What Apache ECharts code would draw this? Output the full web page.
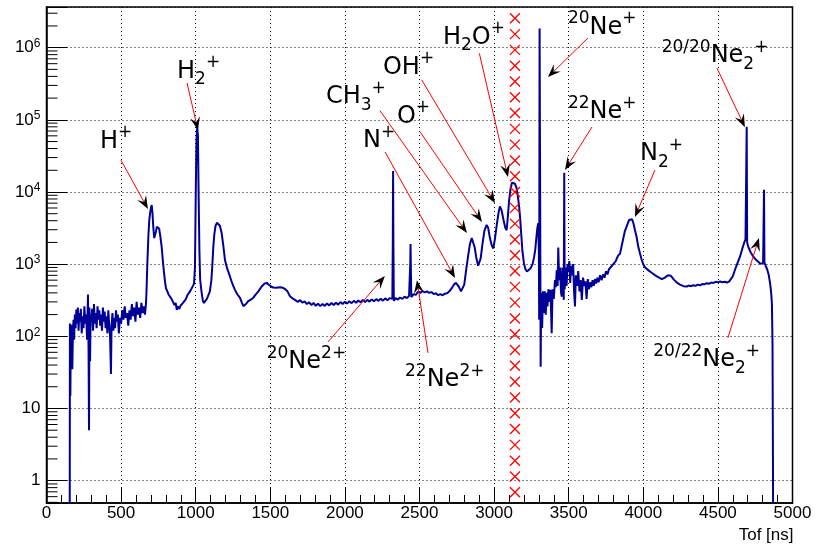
<!DOCTYPE html>
<html>
<head>
<meta charset="utf-8">
<script src="https://cdn.jsdelivr.net/npm/echarts@6/dist/echarts.min.js"></script>
<style>
  html, body { margin: 0; padding: 0; background: #ffffff; }
  #chart { width: 817px; height: 548px; }
</style>
</head>
<body>
<div id="chart"></div>
<script>
// Time-of-flight spectrum: bin centres [ns] and counts per bin
const tof = [
  155, 157, 160, 163, 166, 169, 173, 177, 181, 185, 190, 195, 200, 205, 210, 215, 220, 225, 230, 236,
  242, 248, 254, 260, 266, 272, 278, 282, 285, 288, 292, 296, 300, 306, 312, 318, 324, 330, 336, 342,
  348, 354, 360, 366, 372, 378, 384, 390, 396, 402, 408, 414, 420, 426, 432, 436, 442, 448, 454, 460,
  466, 472, 478, 485, 492, 500, 508, 516, 524, 532, 540, 548, 556, 564, 572, 580, 588, 596, 604, 612,
  620, 628, 636, 644, 652, 660, 666,
  670, 676, 683, 689, 695, 700, 705, 710, 716, 722, 727, 733, 740, 748, 755, 762, 772, 780, 788, 795,
  801, 810, 818, 828, 838, 850, 858, 866, 873, 880, 890, 898, 906, 915, 925, 935, 945, 955, 965, 973,
  982, 989, 995, 1000, 1005, 1010, 1015, 1020, 1025, 1030, 1040, 1048, 1055, 1065, 1075, 1085, 1095, 1105, 1112, 1118,
  1125, 1133, 1143, 1152, 1162, 1174, 1185, 1196, 1210, 1230, 1245, 1263, 1280, 1297, 1310, 1320, 1330, 1340, 1350, 1364,
  1385, 1400, 1420, 1442, 1460, 1476, 1490, 1505, 1520, 1540, 1565, 1585, 1600, 1615, 1632, 1654,
  1670, 1685, 1700, 1715, 1730, 1745, 1760, 1775, 1790, 1805, 1820, 1835, 1850, 1865, 1880, 1895, 1910, 1925, 1940, 1955,
  1970, 1985, 2000, 2015, 2030, 2045, 2060, 2075, 2090, 2105, 2120, 2135, 2150, 2165, 2180, 2195, 2210, 2225, 2240, 2255,
  2270, 2285, 2300, 2312, 2318, 2321, 2323, 2325, 2328, 2340, 2355, 2369, 2385, 2400, 2415, 2430, 2436, 2438, 2440, 2442,
  2445, 2460, 2475, 2490, 2505, 2520, 2535, 2550, 2565, 2580, 2595, 2610, 2625, 2640, 2655, 2670, 2685, 2700, 2715, 2730,
  2745, 2755, 2765, 2778, 2790, 2800, 2808, 2816, 2826, 2838, 2850, 2860, 2870, 2880, 2893, 2901, 2910, 2922, 2935, 2950,
  2960, 2972, 2985, 2995, 3005, 3018, 3030, 3039, 3050, 3062, 3075, 3084, 3092, 3100, 3110, 3120, 3130, 3140, 3150, 3160,
  3168, 3175, 3182, 3190, 3200, 3210, 3220, 3232, 3245, 3258, 3268, 3276, 3284, 3290, 3296, 3300, 3302, 3305, 3309, 3312,
  3316, 3322, 3328, 3334, 3340, 3346, 3352, 3358, 3364, 3370, 3378, 3386, 3392, 3400, 3408, 3414, 3420, 3426, 3430, 3436,
  3442, 3448, 3453, 3458, 3463, 3467, 3470, 3473, 3480, 3486, 3492, 3498, 3504, 3510, 3516, 3522, 3530, 3536, 3542, 3548,
  3556, 3564, 3572, 3580, 3588, 3596, 3604, 3612, 3620, 3628, 3636, 3644, 3652, 3660, 3668, 3676, 3684, 3692, 3700, 3710,
  3720, 3730, 3740, 3750, 3760, 3770, 3780, 3790, 3800, 3815, 3830, 3844, 3860, 3877, 3890, 3905, 3915, 3925, 3935, 3945,
  3955, 3966, 3978, 3989, 4000, 4012, 4022, 4035, 4045, 4056, 4067, 4080, 4090, 4100, 4112, 4124, 4134, 4145, 4155, 4165,
  4175, 4185, 4195, 4205, 4215, 4230, 4246, 4258, 4270, 4282, 4291, 4305, 4320, 4335, 4350, 4365, 4380, 4395, 4410, 4425,
  4440, 4455, 4470, 4485, 4500, 4515, 4530, 4545, 4560, 4575, 4585, 4600, 4614, 4630, 4648, 4662, 4675, 4685, 4690, 4693,
  4696, 4703, 4720, 4737, 4755, 4770, 4785, 4795, 4803, 4806, 4809, 4812, 4820, 4830, 4840, 4850, 4857, 4862, 4866, 4869,
  4872
];
const counts = [
  0.01, 150, 15, 130, 55, 145, 35, 115, 170, 90, 200, 130, 235, 150, 250, 120, 210, 160, 240, 110,
  190, 130, 260, 150, 200, 90, 380, 60, 5, 250, 45, 200, 160, 240, 120, 280, 150, 210, 130, 260,
  170, 230, 140, 200, 120, 250, 160, 220, 130, 190, 110, 230, 150, 100, 30, 140, 210, 120, 180, 130,
  230, 160, 200, 110, 180, 150, 230, 170, 260, 180, 210, 140, 230, 170, 280, 190, 250, 160, 300, 200,
  250, 180, 290, 210, 260, 200, 270,
  400, 1040, 2500, 4100, 5200, 6000, 6600, 5200, 3200, 2300, 2160, 2800, 3300, 3400, 3100, 2500, 1740, 1100, 750, 560,
  463, 420, 380, 374, 330, 318, 270, 290, 232, 260, 240, 265, 257, 290, 300, 330, 374, 400, 430, 463,
  500, 543, 900, 8000, 50000, 79000, 60000, 8000, 1500, 600, 400, 310, 290, 300, 330, 350, 420, 600, 1000, 1740,
  2600, 3400, 3750, 3800, 3400, 2700, 1800, 1150, 880, 670, 540, 440, 380, 340, 290, 262, 272, 285, 305, 318,
  340, 375, 420, 490, 535, 550, 520, 490, 475, 470, 480, 470, 450, 420, 360, 330,
  315, 300, 318, 292, 305, 280, 296, 272, 290, 265, 283, 262, 280, 264, 285, 268, 290, 272, 292, 275,
  298, 280, 302, 284, 306, 288, 310, 292, 314, 296, 318, 298, 320, 302, 325, 305, 328, 310, 332, 312,
  336, 315, 338, 320, 330, 2000, 19500, 2000, 310, 340, 322, 345, 330, 355, 338, 362, 345, 1000, 1900, 900,
  350, 385, 375, 415, 400, 425, 405, 420, 400, 410, 385, 395, 372, 385, 370, 390, 395, 420, 460, 520,
  550, 530, 480, 420, 400, 520, 700, 930, 1300, 1900, 2300, 2200, 1700, 1250, 950, 920, 1200, 1900, 2900, 3500,
  3200, 2300, 1800, 1650, 2200, 3500, 5200, 6300, 5600, 4200, 3200, 2950, 4500, 7500, 11000, 13500, 14000, 13000, 11500, 8500,
  6200, 4200, 2600, 1500, 1030, 850, 790, 800, 880, 1000, 1250, 1600, 2400, 3200, 3700, 1500, 170, 1850000, 5000, 38,
  400, 130, 420, 210, 420, 200, 400, 260, 450, 300, 440, 110, 450, 330, 600, 480, 830, 500, 1700, 600,
  900, 420, 355, 900, 500, 320, 18500, 450, 900, 500, 1000, 800, 1100, 550, 950, 700, 1000, 420, 260, 700,
  500, 800, 420, 600, 320, 650, 500, 580, 330, 620, 450, 560, 480, 600, 500, 620, 540, 650, 560, 700,
  600, 720, 650, 800, 720, 850, 800, 950, 920, 1100, 1300, 1400, 2000, 2900, 3400, 4100, 4300, 4200, 3600, 2900,
  2400, 1750, 1400, 1150, 1000, 900, 880, 820, 790, 760, 750, 700, 690, 660, 640, 620, 610, 650, 690, 700,
  720, 690, 650, 610, 580, 545, 520, 505, 495, 510, 490, 505, 495, 510, 500, 520, 510, 530, 525, 545,
  535, 555, 550, 570, 560, 575, 560, 570, 558, 572, 580, 680, 830, 1020, 1270, 1600, 1950, 2200, 2150, 80000,
  2000, 1750, 1450, 1280, 1150, 1080, 1010, 975, 1040, 1100, 10700, 1050, 950, 850, 720, 540, 400, 287, 80, 2,
  0.01
];

// Marker column drawn at the gate position
const cutTof = 3140;
const cutCounts = [
  2.55e6, 1.54e6, 9.31e5, 5.62e5, 3.40e5, 2.05e5, 1.24e5, 7.49e4, 4.53e4, 2.73e4,
  1.65e4, 9970, 6030, 3640, 2200, 1330, 802, 484, 293, 177,
  107, 64.5, 39.0, 23.5, 14.2, 8.59, 5.19, 3.13, 1.89, 1.14, 0.69
];

// Peak labels: text anchor (left edge, middle) and arrow tail/tip, all in [ns, counts]
const annotations = [
  { label: 'H{sup|+}',                 at: [359, 5.0e4],   from: [499, 2.76e4],  to: [680, 5820] },
  { label: 'H{sub|2}{sup|+}',          at: [875, 4.68e5],  from: [942, 3.24e5],  to: [1015, 7.2e4] },
  { label: 'CH{sub|3}{sup|+}',         at: [1873, 2.07e5], from: [2235, 1.34e5], to: [2818, 2700] },
  { label: 'OH{sup|+}',                at: [2255, 5.31e5], from: [2515, 3.57e5], to: [3006, 7000] },
  { label: 'O{sup|+}',                 at: [2349, 1.11e5], from: [2503, 6.85e4], to: [2919, 3850] },
  { label: 'N{sup|+}',                 at: [2121, 5.09e4], from: [2269, 3.59e4], to: [2738, 644] },
  { label: 'H{sub|2}O{sup|+}',         at: [2657, 1.38e6], from: [2901, 8.36e5], to: [3093, 1.61e4] },
  { label: '{sup|20}Ne{sup|+}',        at: [3495, 1.90e6], from: [3629, 1.36e6], to: [3361, 3.92e5] },
  { label: '{sup|22}Ne{sup|+}',        at: [3495, 1.30e5], from: [3656, 7.96e4], to: [3475, 2.02e4] },
  { label: 'N{sub|2}{sup|+}',          at: [3978, 3.36e4], from: [4078, 2.02e4], to: [3944, 4500] },
  { label: '{sup|20/20}Ne{sub|2}{sup|+}', at: [4123, 7.7e5], from: [4494, 5.2e5], to: [4681, 7.9e4] },
  { label: '{sup|20/22}Ne{sub|2}{sup|+}', at: [4067, 47],   from: [4567, 94.8],  to: [4775, 2300] },
  { label: '{sup|20}Ne{sup|2+}',       at: [1476, 44.6],   from: [1887, 83.6],  to: [2268, 687] },
  { label: '{sup|22}Ne{sup|2+}',       at: [2403, 24.9],   from: [2557, 58.9],  to: [2483, 598] }
];

const X_MIN = 0, X_MAX = 5000;
const Y_MIN = 0.49, Y_MAX = 3.66e6;

// Intermediate log ticks (2..9 of every decade inside the range)
const yMinorTicks = [];
for (let e = -1; e <= 6; e++) {
  for (let m = 2; m <= 9; m++) {
    const v = m * Math.pow(10, e);
    if (v > Y_MIN && v < Y_MAX) yMinorTicks.push(v);
  }
}

const AXIS_FONT = 'Liberation Sans, Arial, Helvetica, sans-serif';
const LABEL_FONT = 'DejaVu Sans, sans-serif';

const chart = echarts.init(document.getElementById('chart'), null, { renderer: 'canvas' });

function decadeLabel(v) {
  const lg = Math.log10(v);
  const e = Math.round(lg);
  if (Math.abs(lg - e) > 1e-6) return '';
  if (e === 0) return '1';
  if (e === 1) return '10';
  return '10{sup|' + e + '}';
}

function renderAnnotation(params, api) {
  const a = annotations[params.dataIndex];
  const p0 = api.coord(a.from);
  const p1 = api.coord(a.to);
  const pt = api.coord(a.at);
  const dx = p1[0] - p0[0], dy = p1[1] - p0[1];
  const len = Math.hypot(dx, dy) || 1;
  const ux = dx / len, uy = dy / len, nx = -uy, ny = ux;
  const L = 13, W = 5, N = 8;
  const head = [
    [p1[0], p1[1]],
    [p1[0] - L * ux + W * nx, p1[1] - L * uy + W * ny],
    [p1[0] - N * ux, p1[1] - N * uy],
    [p1[0] - L * ux - W * nx, p1[1] - L * uy - W * ny]
  ];
  return {
    type: 'group',
    children: [
      { type: 'line', shape: { x1: p0[0], y1: p0[1], x2: p1[0] - N * ux, y2: p1[1] - N * uy },
        style: { stroke: '#ff0000', lineWidth: 1 } },
      { type: 'polygon', shape: { points: head }, style: { fill: '#000000' } },
      { type: 'text', x: pt[0], y: pt[1],
        style: {
          text: a.label, fill: '#000000', fontFamily: LABEL_FONT, fontSize: 24, lineHeight: 34,
          align: 'left', verticalAlign: 'middle',
          rich: {
            sup: { fontFamily: LABEL_FONT, fontSize: 17, lineHeight: 23, verticalAlign: 'top', fill: '#000000' },
            sub: { fontFamily: LABEL_FONT, fontSize: 17, lineHeight: 22, verticalAlign: 'bottom', fill: '#000000' }
          }
        } }
    ]
  };
}

function renderCutMarker(params, api) {
  const p = api.coord([api.value(0), api.value(1)]);
  const s = 5;
  return {
    type: 'group',
    children: [
      { type: 'line', shape: { x1: p[0] - s, y1: p[1] - s, x2: p[0] + s, y2: p[1] + s },
        style: { stroke: '#ff0000', lineWidth: 1.3 } },
      { type: 'line', shape: { x1: p[0] - s, y1: p[1] + s, x2: p[0] + s, y2: p[1] - s },
        style: { stroke: '#ff0000', lineWidth: 1.3 } }
    ]
  };
}

function renderMinorTick(params, api) {
  const p = api.coord([X_MIN, api.value(1)]);
  return { type: 'line', shape: { x1: p[0], y1: p[1], x2: p[0] + 11, y2: p[1] },
           style: { stroke: '#000000', lineWidth: 1 } };
}

const option = {
  animation: false,
  backgroundColor: '#ffffff',
  grid: {
    left: 46.5, right: 24.5, top: 7, bottom: 45,
    show: true, borderColor: '#000000', borderWidth: 1.5, backgroundColor: 'transparent'
  },
  xAxis: {
    type: 'value', min: X_MIN, max: X_MAX, interval: 500,
    name: 'Tof [ns]', nameLocation: 'end', nameGap: 1,
    nameTextStyle: { fontFamily: AXIS_FONT, fontSize: 17, color: '#000', align: 'right', verticalAlign: 'top', padding: [24, 0, 0, 0] },
    axisLine: { show: true, onZero: false, lineStyle: { color: '#000', width: 1.5 } },
    axisTick: { show: true, inside: true, length: 16, lineStyle: { color: '#000', width: 1 } },
    minorTick: { show: true, splitNumber: 5, length: 8, lineStyle: { color: '#000', width: 1 } },
    axisLabel: { fontFamily: AXIS_FONT, fontSize: 17, color: '#000', margin: 2, formatter: v => String(v) },
    splitLine: { show: true, lineStyle: { color: '#000', width: 1, type: [1, 3] } }
  },
  yAxis: {
    type: 'log', logBase: 10, min: Y_MIN, max: Y_MAX, splitNumber: 7,
    axisLine: { show: true, lineStyle: { color: '#000', width: 1.5 } },
    axisTick: { show: true, inside: true, length: 21, lineStyle: { color: '#000', width: 1 } },
    axisLabel: {
      fontFamily: AXIS_FONT, fontSize: 17, color: '#000', margin: 6, lineHeight: 20,
      formatter: decadeLabel, showMinLabel: true, showMaxLabel: true,
      rich: { sup: { fontFamily: AXIS_FONT, fontSize: 12, lineHeight: 12, verticalAlign: 'top', color: '#000' } }
    },
    splitLine: { show: true, lineStyle: { color: '#000', width: 1, type: [1, 3] } }
  },
  series: [
    {
      name: 'minor ticks', type: 'custom', renderItem: renderMinorTick, clip: false, silent: true,
      data: yMinorTicks.map(v => [X_MIN, v]), z: 3
    },
    {
      name: 'Tof', type: 'line', showSymbol: false, symbol: 'none', clip: true,
      data: tof.map((t, i) => [t, counts[i]]),
      lineStyle: { color: '#000099', width: 2 }, z: 4
    },
    {
      name: 'gate', type: 'custom', renderItem: renderCutMarker, clip: true, silent: true,
      data: cutCounts.map(v => [cutTof, v]), z: 5
    },
    {
      name: 'labels', type: 'custom', renderItem: renderAnnotation, clip: false, silent: true,
      data: annotations.map(a => [a.to[0], a.to[1]]), z: 6
    }
  ]
};

chart.setOption(option);
</script>
</body>
</html>
